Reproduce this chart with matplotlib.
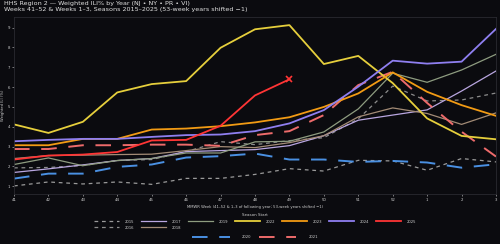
import numpy as np
import matplotlib
matplotlib.use('Agg')
import matplotlib.pyplot as plt

# MMWR weeks shown on the x axis
weeks = ['41', '42', '43', '44', '45', '46', '47', '48', '49', '50', '51', '52', '1', '2', '3']

# Weighted ILI% per season
ili_2015 = [1.02, 1.22, 1.12, 1.22, 1.10, 1.40, 1.40, 1.60, 1.89, 1.77, 2.31, 2.28, 1.81, 2.40, 2.23]
ili_2016 = [1.93, 1.95, 2.05, 2.30, 2.35, 2.75, 3.25, 3.10, 3.30, 3.45, 4.40, 6.05, 5.30, 5.35, 5.70]
ili_2017 = [1.70, 1.88, 2.08, 2.30, 2.40, 2.75, 2.80, 2.85, 3.05, 3.55, 4.33, 4.59, 4.85, 5.80, 6.81]
ili_2018 = [2.40, 2.55, 2.57, 2.60, 2.62, 2.80, 3.00, 2.95, 3.20, 3.55, 4.50, 4.95, 4.67, 4.12, 4.70]
ili_2019 = [2.10, 2.43, 2.04, 2.30, 2.40, 2.68, 2.68, 3.24, 3.27, 3.74, 4.90, 6.70, 6.24, 6.86, 7.65]
ili_2020 = [1.39, 1.64, 1.64, 1.98, 2.10, 2.45, 2.52, 2.65, 2.35, 2.35, 2.23, 2.28, 2.20, 1.94, 2.11]
ili_2021 = [2.88, 2.88, 3.07, 3.07, 3.10, 3.10, 3.04, 3.58, 3.78, 4.59, 6.10, 6.77, 5.20, 3.75, 2.50]
ili_2022 = [4.12, 3.69, 4.25, 5.73, 6.15, 6.30, 7.98, 8.91, 9.12, 7.16, 7.57, 6.20, 4.42, 3.54, 3.37]
ili_2023 = [3.07, 3.07, 3.39, 3.39, 3.86, 3.91, 4.03, 4.22, 4.48, 5.00, 5.68, 6.74, 5.76, 5.09, 4.55]
ili_2024 = [3.27, 3.34, 3.39, 3.39, 3.49, 3.58, 3.61, 3.78, 4.17, 4.84, 6.02, 7.33, 7.18, 7.28, 8.93]
ili_2025 = [2.35, 2.55, 2.60, 2.73, 3.31, 3.34, 4.05, 5.58, 6.39]

bg = '#0b0b0f'
fg = '#cfcfcf'

# season -> (values, color, linewidth, dashes)
styles = {
    '2015': (ili_2015, '#9a9a9a', 0.9, (3, 3)),
    '2016': (ili_2016, '#8c8c8c', 0.9, (3, 3)),
    '2017': (ili_2017, '#b9a6e0', 0.9, None),
    '2018': (ili_2018, '#a38b76', 0.9, None),
    '2019': (ili_2019, '#8e9c80', 0.9, None),
    '2020': (ili_2020, '#4a90e2', 1.4, (8, 6)),
    '2021': (ili_2021, '#ee6b6b', 1.4, (8, 6)),
    '2022': (ili_2022, '#e6cf3c', 1.3, None),
    '2023': (ili_2023, '#f29b14', 1.3, None),
    '2024': (ili_2024, '#8f7ff0', 1.3, None),
    '2025': (ili_2025, '#ff3535', 1.3, None),
}

fig = plt.figure(figsize=(5, 2.44), dpi=100, facecolor=bg)
ax = fig.add_axes([0.028, 0.205, 0.964, 0.725], facecolor=bg)

x = np.arange(len(weeks))
handles = {}
for season, (vals, col, lw, dash) in styles.items():
    xs = x[:len(vals)]
    if dash is None:
        ln, = ax.plot(xs, vals, color=col, lw=lw)
    else:
        ln, = ax.plot(xs, vals, color=col, lw=lw, dashes=dash)
    handles[season] = ln

# mark latest point of current season
ax.plot(x[len(ili_2025) - 1], ili_2025[-1], marker='x', color='#ff3535',
        markersize=4, mew=1.2)

ax.set_xlim(0, len(weeks) - 1)
ax.set_xticks(x)
ax.set_xticklabels(weeks)
ax.tick_params(colors=fg, labelsize=2.8, length=1.5, width=0.4, pad=1.5)
for sp in ax.spines.values():
    sp.set_color('#2a2a30')
    sp.set_linewidth(0.6)
ax.set_ylabel('Weighted ILI (%)', color=fg, fontsize=2.7, labelpad=2)
ax.set_xlabel('MMWR Week (41\u201352 & 1\u20133 of following year; 53-week years shifted \u22121)',
              color=fg, fontsize=2.7, labelpad=2)

fig.text(0.008, 0.995, 'HHS Region 2 \u2014 Weighted ILI% by Year (NJ \u2022 NY \u2022 PR \u2022 VI)\n'
         'Weeks 41\u201352 & Weeks 1\u20133, Seasons 2015\u20132025 (53-week years shifted \u22121)',
         color='#e0e0e0', fontsize=4.6, va='top', ha='left', linespacing=1.15)

main = ['2015', '2016', '2017', '2018', '2019', '2022', '2023', '2024', '2025']
leg1 = fig.legend([handles[s] for s in main], main, ncol=7, loc='upper center',
                  bbox_to_anchor=(0.51, 0.135), frameon=False, fontsize=2.7,
                  title='Season Start', title_fontsize=2.9, labelcolor=fg,
                  handlelength=6.8, handletextpad=1.4, columnspacing=1.8,
                  labelspacing=0.6, borderpad=0.1)
leg1.get_title().set_color(fg)

extra = ['2020', '2021']
fig.legend([handles[s] for s in extra], extra, ncol=2, loc='upper center',
           bbox_to_anchor=(0.51, 0.045), frameon=False, fontsize=2.7,
           labelcolor=fg, handlelength=10, handletextpad=3.2,
           columnspacing=2.0, borderpad=0.1)

fig.savefig('out.png', dpi=100, facecolor=bg)
